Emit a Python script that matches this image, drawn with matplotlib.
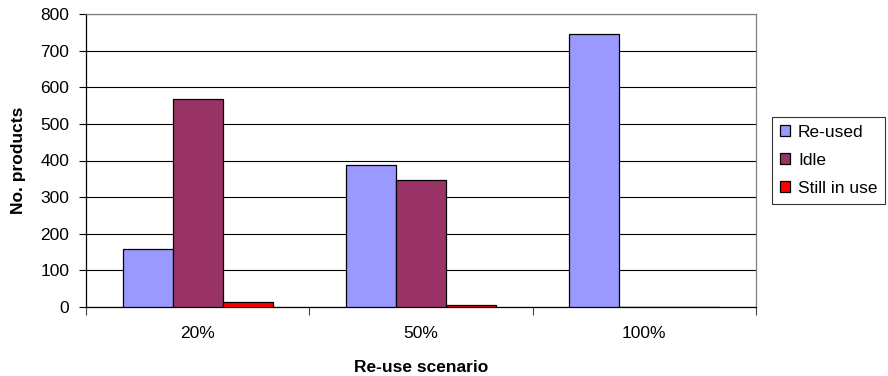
import matplotlib
matplotlib.use("Agg")
import matplotlib.pyplot as plt
import numpy as np

plt.rcParams['font.family'] = ['Liberation Sans', 'DejaVu Sans']

scenarios = ["20%", "50%", "100%"]
series_names = ["Re-used", "Idle", "Still in use"]
reused = [158, 388, 745]
idle = [567, 347, 0]
still_in_use = [14, 6, 0]
colors = ["#9999FF", "#993366", "#FF0000"]

fig = plt.figure(figsize=(8.88, 3.76), dpi=100)
ax = fig.add_axes([86 / 888, 1 - 307 / 376, (756 - 86) / 888, (307 - 14) / 376])

x = np.arange(len(scenarios))
width = 0.224
for i, (vals, name, c) in enumerate(zip([reused, idle, still_in_use], series_names, colors)):
    ax.bar(x + (i - 1) * width, vals, width, color=c, edgecolor="black",
           linewidth=0.9, label=name, zorder=3)

ax.set_xlim(-0.5, 2.5)
ax.set_ylim(0, 800)
ax.set_yticks(np.arange(0, 801, 100))
ax.yaxis.grid(True, color="black", linewidth=0.8, zorder=0)
ax.set_axisbelow(True)

ax.set_xticks(x)
ax.set_xticklabels(scenarios)
ax.set_xticks([-0.5, 0.5, 1.5, 2.5], minor=True)
ax.tick_params(axis="x", which="major", length=0, pad=14, labelsize=12.5)
ax.tick_params(axis="x", which="minor", length=6, width=0.8, color="#444444")
ax.tick_params(axis="y", length=5, width=0.8, pad=7, labelsize=12.5)

for side in ("top", "right"):
    ax.spines[side].set_color("#808080")
    ax.spines[side].set_linewidth(0.9)
ax.spines["left"].set_linewidth(0.9)
ax.spines["bottom"].set_linewidth(0.9)

ax.set_xlabel("Re-use scenario", fontsize=12.5, fontweight="bold", labelpad=13)
ax.set_ylabel("No. products", fontsize=12.5, fontweight="bold", labelpad=10)

leg = fig.legend(loc="upper left", bbox_to_anchor=(772 / 888, 1 - 117 / 376),
                 fontsize=12.5, frameon=True, fancybox=False, edgecolor="black",
                 handlelength=0.6, handleheight=0.6, handletextpad=0.45,
                 labelspacing=0.75, borderpad=0.45, borderaxespad=0)
leg.get_frame().set_linewidth(0.8)

fig.savefig("out.png", dpi=100)
